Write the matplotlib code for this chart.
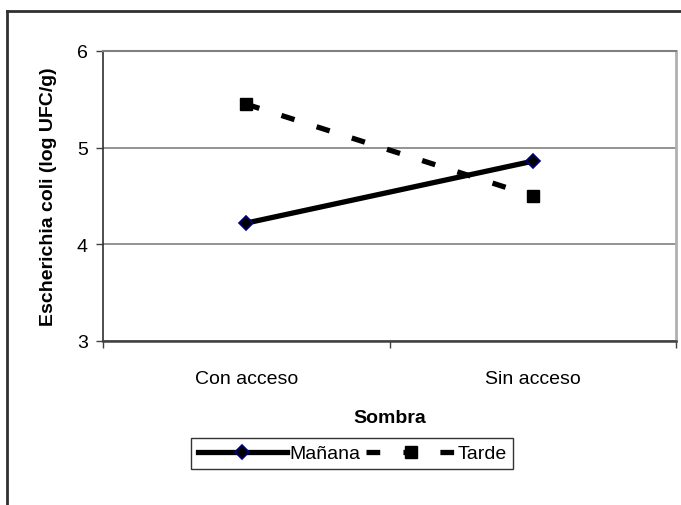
import matplotlib.pyplot as plt
from matplotlib.lines import Line2D

plt.rcParams['font.family'] = ['Liberation Sans', 'DejaVu Sans']

# Data
categories = ['Con acceso', 'Sin acceso']
manana = [4.22, 4.86]
tarde = [5.45, 4.50]
y_ticks = [3, 4, 5, 6]

fig = plt.figure(figsize=(6.81, 5.06), dpi=100)
ax = fig.add_axes([103 / 681, 1 - 342 / 506, 573 / 681, 290 / 506])

x = [0.5, 1.5]

ax.plot(x, manana, color='black', lw=3.8, marker='D', markersize=7,
        markerfacecolor='black', markeredgecolor='#000080', markeredgewidth=1.2,
        label='Mañana', zorder=3)
ax.plot(x, tarde, color='black', lw=3.8, dashes=(2.6, 4.4), marker='s', markersize=8,
        markerfacecolor='black', markeredgecolor='black',
        label='Tarde', zorder=3)

ax.set_xlim(0, 2)
ax.set_ylim(3, 6)
ax.set_yticks(y_ticks)
ax.set_yticklabels([str(t) for t in y_ticks], fontsize=14)
ax.set_xticks([0, 1, 2])
ax.set_xticklabels([])
ax.set_xticks(x, minor=True)
ax.set_xticklabels(categories, minor=True, fontsize=14)
ax.tick_params(axis='x', which='minor', length=0, pad=21)
ax.tick_params(axis='x', which='major', length=5, width=1, color='#404040')
ax.tick_params(axis='y', length=5, width=1, color='#404040', pad=6)

ax.grid(axis='y', color='#808080', lw=1.2)
ax.set_axisbelow(True)

ax.spines['top'].set_color('#808080')
ax.spines['top'].set_linewidth(1.5)
ax.spines['right'].set_color('#b0b0b0')
ax.spines['right'].set_linewidth(2)
ax.spines['left'].set_color('#303030')
ax.spines['left'].set_linewidth(1.2)
ax.spines['bottom'].set_color('#404040')
ax.spines['bottom'].set_linewidth(1.8)

ax.set_ylabel('Escherichia coli (log UFC/g)', fontsize=14, fontweight='bold', labelpad=14)
ax.set_xlabel('Sombra', fontsize=14, fontweight='bold', labelpad=16)

leg = ax.legend(loc='upper center', bbox_to_anchor=(352 / 681, 1 - 439 / 506),
                bbox_transform=fig.transFigure, ncol=2, fontsize=14,
                frameon=True, fancybox=False, edgecolor='black',
                handlelength=4.6, handletextpad=0.1, columnspacing=0.3,
                borderpad=0.35, borderaxespad=0)
leg.get_frame().set_linewidth(1.0)

# Outer chart frame
fig.add_artist(Line2D([7 / 681, 7 / 681], [0, 1 - 12 / 506], color='#303030', lw=2))
fig.add_artist(Line2D([7 / 681, 1], [1 - 12 / 506, 1 - 12 / 506], color='#303030', lw=2))

fig.savefig('out.png', dpi=100)
